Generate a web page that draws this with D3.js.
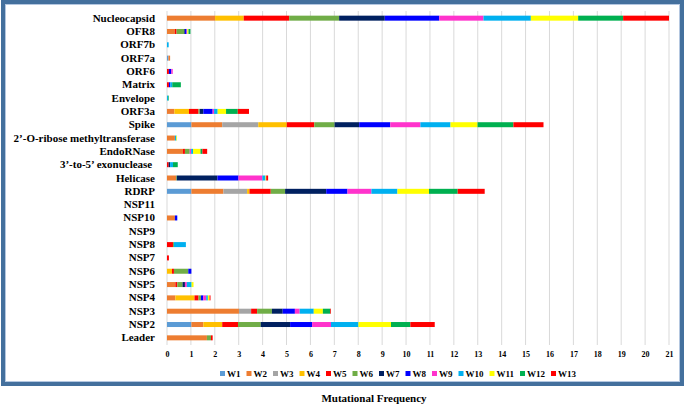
<!DOCTYPE html>
<html><head><meta charset="utf-8">
<script src="https://cdn.jsdelivr.net/npm/d3@7"></script>
<style>
html,body{margin:0;padding:0;background:#fff;}
svg{display:block;}
text{font-family:"Liberation Serif","Times New Roman",serif;font-weight:bold;fill:#000;}
</style></head>
<body>
<svg id="c" width="685" height="404"></svg>
<script>
const categories = ["Nucleocapsid","OFR8","ORF7b","ORF7a","ORF6","Matrix","Envelope","ORF3a","Spike",
  "2’-O-ribose methyltransferase","EndoRNase","3’-to-5’ exonuclease ","Helicase","RDRP","NSP11","NSP10",
  "NSP9","NSP8","NSP7","NSP6","NSP5","NSP4","NSP3","NSP2","Leader"];
const seriesNames = ["W1","W2","W3","W4","W5","W6","W7","W8","W9","W10","W11","W12","W13"];
const seriesColors = ["#5B9BD5","#ED7D31","#A5A5A5","#FFC000","#FF0000","#70AD47","#002060","#0000FF","#FF33CC","#00B0F0","#FFFF00","#00B050","#FF0000"];
// values per category, in order W1..W13
const W1  = [0,   0,   0,   0.06,0,   0,   0,   0,   1.02,0,   0,   0,   0,   1.02,0,0,   0,0,   0,   0,   0,   0,   0,   1.02,0];
const W2  = [2.01,0.33,0,   0.07,0,   0,   0,   0.31,1.29,0.33,0.67,0,   0.38,1.34,0,0.33,0,0,   0,   0,   0.35,0.35,3.01,0.50,1.67];
const W3  = [0,   0,   0,   0,   0,   0,   0,   0,   1.51,0,   0,   0,   0,   0.99,0,0,   0,0,   0,   0,   0,   0,   0.51,0,   0];
const W4  = [1.20,0,   0,   0,   0,   0,   0,   0.61,1.19,0,   0,   0,   0,   0.10,0,0,   0,0,   0,   0.21,0,   0.80,0,   0.79,0];
const W5  = [1.90,0.07,0,   0,   0.08,0.08,0,   0.40,1.15,0,   0.08,0.07,0,   0.89,0,0,   0,0.25,0.08,0.08,0.08,0.17,0.25,0.66,0];
const W6  = [2.09,0.32,0,   0,   0,   0,   0,   0.05,0.85,0,   0.20,0,   0.03,0.60,0,0,   0,0.04,0,   0.60,0.22,0.10,0.62,0.95,0.17];
const W7  = [1.91,0.03,0,   0,   0,   0,   0,   0.15,1.03,0,   0,   0.06,1.70,1.72,0,0,   0,0,   0,   0,   0.10,0,   0.45,1.23,0];
const W8  = [2.28,0.07,0,   0,   0.10,0.06,0,   0.39,1.30,0,   0,   0,   0.88,0.89,0,0.10,0,0,   0,   0.13,0,   0.10,0.51,0.92,0];
const W9  = [1.85,0.03,0,   0,   0.06,0,   0,   0.06,1.26,0,   0.06,0,   1.00,1.00,0,0,   0,0,   0,   0,   0.08,0.12,0.20,0.79,0];
const W10 = [1.98,0,   0.07,0,   0,   0.08,0.04,0.15,1.26,0.06,0.08,0.12,0.13,1.09,0,0,   0,0.50,0,   0,   0.20,0.07,0.59,1.15,0];
const W11 = [1.98,0.05,0,   0,   0,   0,   0,   0.35,1.13,0.03,0.31,0,   0.03,1.32,0,0,   0,0,   0,   0,   0.08,0.07,0.38,1.36,0];
const W12 = [1.88,0.08,0,   0,   0,   0.36,0.03,0.49,1.50,0,   0.08,0.20,0,   1.20,0,0,   0,0,   0,   0,   0,   0,   0.31,0.81,0];
const W13 = [1.92,0,   0,   0,   0,   0,   0,   0.47,1.26,0,   0.20,0,   0.08,1.13,0,0,   0,0,   0,   0,   0,   0.04,0.03,1.02,0.07];
const seriesValues = [W1,W2,W3,W4,W5,W6,W7,W8,W9,W10,W11,W12,W13];
const tickValues = d3.range(0,22);

const svg = d3.select("#c");
// frame
svg.append("rect").attr("x",3).attr("y",2).attr("width",679).attr("height",382)
  .attr("fill","#fff").attr("stroke","#44709d").attr("stroke-width",4);
svg.append("rect").attr("x",5.5).attr("y",4.5).attr("width",674).attr("height",377)
  .attr("fill","none").attr("stroke","#b4c7e0").attr("stroke-width",1);

const x = d3.scaleLinear().domain([0,21]).range([167,669]);
const y = d3.scaleBand().domain(categories).range([11.5,344.5]).paddingInner(0.62).paddingOuter(0.31);

// gridlines
svg.append("g").selectAll("line").data(tickValues).join("line")
  .attr("x1",d=>x(d)).attr("x2",d=>x(d)).attr("y1",11).attr("y2",345)
  .attr("stroke","#d9d9d9").attr("stroke-width",1);

// x axis labels
const xAxis = d3.axisBottom(x).tickValues(tickValues).tickSize(0).tickPadding(0).tickFormat(d3.format("d"));
const gx = svg.append("g").attr("transform","translate(0,351)").call(xAxis);
gx.select(".domain").remove();
gx.selectAll("text").attr("font-size",8).attr("font-family","Liberation Serif").attr("font-weight","bold").attr("fill","#000");

// y axis labels
const yAxis = d3.axisLeft(y).tickSize(0).tickPadding(0);
const gy = svg.append("g").attr("transform","translate(155,0)").call(yAxis);
gy.select(".domain").remove();
gy.selectAll("text").attr("font-size",11).attr("font-family","Liberation Serif").attr("font-weight","bold").attr("fill","#000")
  .attr("xml:space","preserve").style("white-space","pre");

// stacked bars
const rows = categories.map((c,i)=>{const o={cat:c}; seriesNames.forEach((s,j)=>o[s]=seriesValues[j][i]); return o;});
const stack = d3.stack().keys(seriesNames)(rows);
const bh = 5;
svg.append("g").selectAll("g").data(stack).join("g")
  .attr("fill",(d,i)=>seriesColors[i])
  .selectAll("rect").data(d=>d.filter(p=>p[1]-p[0]>0)).join("rect")
  .attr("x",d=>x(d[0])).attr("width",d=>x(d[1])-x(d[0]))
  .attr("y",d=>y(d.data.cat)+y.bandwidth()/2-bh/2).attr("height",bh);

// legend
const lg = svg.append("g").attr("transform","translate(220,373.5)");
let lx = 0;
seriesNames.forEach((s,i)=>{
  const g = lg.append("g").attr("transform",`translate(${lx},0)`);
  g.append("rect").attr("x",0).attr("y",-2.5).attr("width",5).attr("height",5).attr("fill",seriesColors[i]);
  const t = g.append("text").attr("x",7).attr("y",3.2).attr("font-size",9).text(s);
  lx += 7 + t.node().getComputedTextLength() + 6;
});

// axis title
svg.append("text").attr("x",374).attr("y",401.5).attr("text-anchor","middle").attr("font-size",11).text("Mutational Frequency");
</script>
</body></html>
